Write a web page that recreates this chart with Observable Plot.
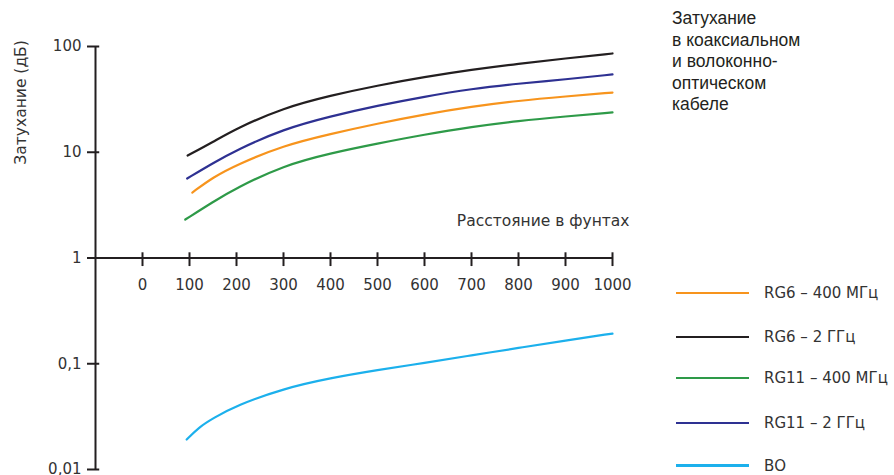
<!DOCTYPE html>
<html>
<head>
<meta charset="utf-8">
<script src="https://cdn.jsdelivr.net/npm/d3@7"></script>
<script src="https://cdn.jsdelivr.net/npm/@observablehq/plot@0.6"></script>
<style>
  body { margin: 0; background: #fff; }
  #wrap { position: relative; width: 894px; height: 475px; overflow: hidden; font-family: "DejaVu Sans", sans-serif; color: #333; }
  #title { position: absolute; left: 672px; top: 8px; font-family: "Liberation Sans", Arial, sans-serif; font-size: 17.5px; line-height: 21.5px; color: #231f20; }
  .leg { position: absolute; left: 676px; height: 20px; font-size: 15px; }
  .leg .sw { position: absolute; left: 0; top: 9px; width: 73px; height: 2px; }
  .leg .lb { position: absolute; left: 88px; top: 0; white-space: nowrap; line-height: 20px; color: #333; }
</style>
</head>
<body>
<div id="wrap"></div>
<script>
// ---- data ----
const xTicks = [0, 100, 200, 300, 400, 500, 600, 700, 800, 900, 1000];
const yTicks = [100, 10, 1, 0.1, 0.01];
const yTickLabels = ["100", "10", "1", "0,1", "0,01"];

const seriesNames = ["RG6 – 400 МГц", "RG6 – 2 ГГц", "RG11 – 400 МГц", "RG11 – 2 ГГц", "ВО"];
const seriesColors = ["#f7941d", "#231f20", "#2e9a48", "#2e3192", "#1cb0ec"];

const rg6_400_x = [106, 150, 200, 300, 400, 500, 600, 700, 800, 900, 1000];
const rg6_400_y = [4.16, 5.8, 7.6, 11.6, 14.9, 18.7, 22.8, 27.0, 30.7, 33.7, 36.7];

const rg6_2g_x = [96, 150, 200, 300, 400, 500, 600, 700, 800, 900, 1000];
const rg6_2g_y = [9.3, 12.5, 16.8, 26.3, 34.4, 42.8, 51.5, 60.3, 68.8, 77, 85.9];

const rg11_400_x = [91, 150, 200, 300, 400, 500, 600, 700, 800, 900, 1000];
const rg11_400_y = [2.31, 3.4, 4.6, 7.5, 9.8, 12.1, 14.7, 17.4, 19.8, 21.8, 23.8];

const rg11_2g_x = [95, 150, 200, 300, 400, 500, 600, 700, 800, 900, 1000];
const rg11_2g_y = [5.65, 7.9, 10.5, 16.6, 21.9, 27.6, 33.6, 39.8, 44.6, 48.9, 54.4];

const vo_x = [94, 120, 150, 200, 300, 400, 500, 600, 700, 800, 900, 1000];
const vo_y = [0.0192, 0.0251, 0.0305, 0.0403, 0.0583, 0.0733, 0.0871, 0.102, 0.120, 0.141, 0.166, 0.193];

const title = ["Затухание", "в коаксиальном", "и волоконно-", "оптическом", "кабеле"];
const yLabel = "Затухание (дБ)";
const xLabel = "Расстояние в фунтах";

// ---- build ----
const xsList = [rg6_400_x, rg6_2g_x, rg11_400_x, rg11_2g_x, vo_x];
const ysList = [rg6_400_y, rg6_2g_y, rg11_400_y, rg11_2g_y, vo_y];
const rows = [];
seriesNames.forEach((name, i) => {
  xsList[i].forEach((x, j) => rows.push({series: name, x, y: ysList[i][j]}));
});

const axisColor = "#231f20";
const textColor = "#333";

const chart = Plot.plot({
  width: 894,
  height: 475,
  marginLeft: 95,
  marginRight: 282,
  marginTop: 46,
  marginBottom: 6,
  style: {fontFamily: "DejaVu Sans, sans-serif", fontSize: "15px", color: textColor, background: "transparent", overflow: "visible"},
  x: {domain: [-100, 1000], axis: null},
  y: {type: "log", domain: [0.01, 100], axis: null},
  color: {domain: seriesNames, range: seriesColors},
  marks: [
    // y axis line and ticks
    Plot.ruleX([-100], {y1: 0.01, y2: 100, stroke: axisColor, strokeWidth: 2}),
    Plot.ruleY(yTicks, {y: d => d, x1: -117, x2: -91, stroke: axisColor, strokeWidth: 2}),
    Plot.text(yTicks, {x: -100, y: d => d, text: (d, i) => yTickLabels[i], dx: -14, textAnchor: "end", fill: textColor, fontSize: 15}),
    // x axis at y = 1
    Plot.ruleY([1], {x1: -100, x2: 1000, stroke: axisColor, strokeWidth: 2}),
    Plot.ruleX(xTicks, {x: d => d, y1: 0.83, y2: 1.12, stroke: axisColor, strokeWidth: 2}),
    Plot.text(xTicks, {x: d => d, y: 1, dy: 27, text: d => String(d), fill: textColor, fontSize: 15}),
    Plot.text([xLabel], {x: 1000, y: 1, dx: 17, dy: -37, text: d => d, textAnchor: "end", fill: textColor, fontSize: 15.5}),
    Plot.text([yLabel], {x: -100, y: 29.6, dx: -74, text: d => d, rotate: -90, fill: textColor, fontSize: 15.5}),
    // series
    Plot.line(rows, {x: "x", y: "y", z: "series", stroke: "series", strokeWidth: 2.2, curve: "basis"})
  ]
});

const wrap = document.getElementById("wrap");
chart.style.position = "absolute";
chart.style.left = "0";
chart.style.top = "0";
wrap.appendChild(chart);

const t = document.createElement("div");
t.id = "title";
t.innerHTML = title.join("<br>");
wrap.appendChild(t);

const legendTops = [283, 327, 368, 413, 456];
seriesNames.forEach((name, i) => {
  const row = document.createElement("div");
  row.className = "leg";
  row.style.top = legendTops[i] + "px";
  const sw = document.createElement("div");
  sw.className = "sw";
  sw.style.background = seriesColors[i];
  if (i === 4) { sw.style.height = "3px"; sw.style.top = "8px"; }
  const lb = document.createElement("div");
  lb.className = "lb";
  lb.textContent = name;
  row.appendChild(sw);
  row.appendChild(lb);
  wrap.appendChild(row);
});
</script>
</body>
</html>
